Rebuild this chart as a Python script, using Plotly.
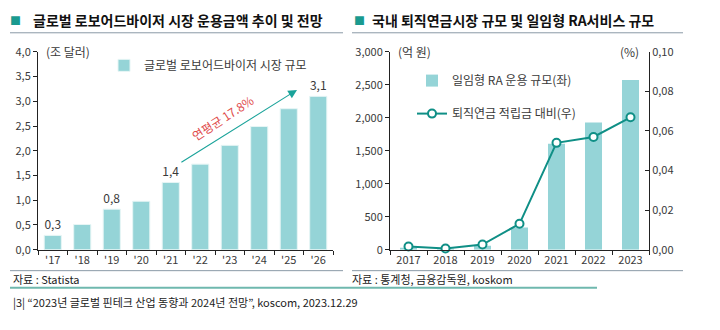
import plotly.graph_objects as go

# ---- data ----
left_years = ["'17", "'18", "'19", "'20", "'21", "'22", "'23", "'24", "'25", "'26"]
left_values = [0.29, 0.51, 0.82, 0.98, 1.36, 1.73, 2.11, 2.49, 2.85, 3.10]
left_labels = ["0,3", "", "0,8", "", "1,4", "", "", "", "", "3,1"]
left_yticks = [0, 0.5, 1.0, 1.5, 2.0, 2.5, 3.0, 3.5, 4.0]
left_yticktext = ["0,0", "0,5", "1,0", "1,5", "2,0", "2,5", "3,0", "3,5", "4,0"]

right_years = ["2017", "2018", "2019", "2020", "2021", "2022", "2023"]
ra_values = [30, 10, 60, 336, 1608, 1930, 2573]
ratio_values = [0.0016, 0.0006, 0.0026, 0.0131, 0.054, 0.057, 0.0669]
right_yticks = [0, 500, 1000, 1500, 2000, 2500, 3000]
right_yticktext = ["0", "500", "1,000", "1,500", "2,000", "2,500", "3,000"]
right_y2ticks = [0, 0.02, 0.04, 0.06, 0.08, 0.10]
right_y2ticktext = ["0,00", "0,02", "0,04", "0,06", "0,08", "0,10"]

W, H = 720, 330
FONT = "Noto Sans CJK KR"
BAR = "#95d4d7"
TEAL = "#0f8f86"
TXT = "#3a3a3a"

def px(x):
    return x / W

def py(y):
    return 1 - y / H

fig = go.Figure()

fig.add_trace(go.Bar(
    x=left_years, y=left_values, text=left_labels, textposition="outside",
    textfont=dict(size=12, color=TXT), cliponaxis=False,
    marker=dict(color=BAR, line=dict(color="#e6f5f5", width=1)),
    name="글로벌 로보어드바이저 시장 규모", xaxis="x", yaxis="y", legend="legend",
))

fig.add_trace(go.Bar(
    x=right_years, y=ra_values, marker=dict(color=BAR, line=dict(width=0)),
    name="일임형 RA 운용 규모(좌)", xaxis="x2", yaxis="y2", legend="legend2",
    legendgroup="a", width=0.46,
))
fig.add_trace(go.Scatter(
    x=right_years, y=ratio_values, mode="lines+markers",
    line=dict(color=TEAL, width=2),
    marker=dict(symbol="circle", size=8, color="white", line=dict(color=TEAL, width=2)),
    name="퇴직연금 적립금 대비(우)", xaxis="x2", yaxis="y3", legend="legend2",
    legendgroup="b", cliponaxis=False,
))

ydom = [py(253), py(45)]
axis_common = dict(showgrid=False, zeroline=False, showline=True, linecolor="#222",
                   linewidth=1, tickfont=dict(size=11, color=TXT), ticklen=4,
                   tickcolor="#222")

fig.update_layout(
    width=W, height=H, margin=dict(l=0, r=0, t=0, b=0),
    paper_bgcolor="white", plot_bgcolor="white",
    font=dict(family=FONT, color=TXT),
    bargap=0.42,
    xaxis=dict(domain=[px(38), px(333)], anchor="y", type="category",
               ticks="outside", tickson="boundaries", **axis_common),
    yaxis=dict(domain=ydom, anchor="x", range=[0, 4.0], tickvals=left_yticks,
               ticktext=left_yticktext, ticks="outside", **axis_common),
    xaxis2=dict(domain=[px(390), px(649)], anchor="y2", type="category",
                ticks="outside", tickson="boundaries", **axis_common),
    yaxis2=dict(domain=ydom, anchor="x2", range=[0, 3000], tickvals=right_yticks,
                ticktext=right_yticktext, ticks="outside", **axis_common),
    yaxis3=dict(domain=ydom, anchor="x2", overlaying="y2", side="right",
                range=[0, 0.10], tickvals=right_y2ticks, ticktext=right_y2ticktext,
                ticks="inside", **axis_common),
    legend=dict(x=px(104), y=py(44), xanchor="left", yanchor="top",
                bgcolor="rgba(0,0,0,0)", font=dict(size=12, color=TXT),
                itemwidth=30),
    legend2=dict(x=px(412), y=py(60), xanchor="left", yanchor="top",
                 bgcolor="rgba(0,0,0,0)", font=dict(size=12, color=TXT),
                 tracegroupgap=14, traceorder="grouped", itemwidth=30),
    showlegend=True,
)

ann = []
# titles
ann.append(dict(x=px(8), y=py(12), xref="paper", yref="paper", text="■", showarrow=False,
                xanchor="left", yanchor="middle", font=dict(size=11, color="#1a9a8f")))
ann.append(dict(x=px(31), y=py(12), xref="paper", yref="paper",
                text="<b>글로벌 로보어드바이저 시장 운용금액 추이 및 전망</b>", showarrow=False,
                xanchor="left", yanchor="middle", font=dict(size=14, color="#111")))
ann.append(dict(x=px(352), y=py(12), xref="paper", yref="paper", text="■", showarrow=False,
                xanchor="left", yanchor="middle", font=dict(size=11, color="#1a9a8f")))
ann.append(dict(x=px(370), y=py(12), xref="paper", yref="paper",
                text="<b>국내 퇴직연금시장 규모 및 일임형 RA서비스 규모</b>", showarrow=False,
                xanchor="left", yanchor="middle", font=dict(size=14, color="#111")))
# units
ann.append(dict(x=px(44), y=py(45), xref="paper", yref="paper", text="(조 달러)",
                showarrow=False, xanchor="left", yanchor="middle", font=dict(size=12, color=TXT)))
ann.append(dict(x=px(396), y=py(45), xref="paper", yref="paper", text="(억 원)",
                showarrow=False, xanchor="left", yanchor="middle", font=dict(size=12, color=TXT)))
ann.append(dict(x=px(641), y=py(45), xref="paper", yref="paper", text="(%)",
                showarrow=False, xanchor="right", yanchor="middle", font=dict(size=12, color=TXT)))
# growth arrow
ann.append(dict(x=8.28, y=3.23, ax=4.31, ay=1.75, xref="x", yref="y", axref="x", ayref="y",
                text="", showarrow=True, arrowhead=2, arrowsize=1.6, arrowwidth=1.1,
                arrowcolor="#1aa39a", standoff=0))
ann.append(dict(x=5.75, y=2.68, xref="x", yref="y", text="연평균 17.8%", showarrow=False,
                textangle=-33, font=dict(size=12, color="#e04a4a")))
# sources
ann.append(dict(x=px(11), y=py(284), xref="paper", yref="paper", text="자료 : Statista",
                showarrow=False, xanchor="left", yanchor="middle", font=dict(size=11, color="#222")))
ann.append(dict(x=px(350), y=py(284), xref="paper", yref="paper",
                text="자료 : 통계청, 금융감독원, koskom",
                showarrow=False, xanchor="left", yanchor="middle", font=dict(size=11, color="#222")))
ann.append(dict(x=px(11), y=py(308), xref="paper", yref="paper",
                text="|3| “2023년 글로벌 핀테크 산업 동향과 2024년 전망”, koscom, 2023.12.29",
                showarrow=False, xanchor="left", yanchor="middle", font=dict(size=11, color="#222")))
fig.update_layout(annotations=ann)

shapes = [
    dict(type="line", xref="paper", yref="paper", x0=px(10), x1=px(343), y0=py(25), y1=py(25),
         line=dict(color="#8a9aa6", width=1)),
    dict(type="line", xref="paper", yref="paper", x0=px(352), x1=px(683), y0=py(25), y1=py(25),
         line=dict(color="#8a9aa6", width=1)),
    dict(type="line", xref="paper", yref="paper", x0=px(10), x1=px(343), y0=py(275), y1=py(275),
         line=dict(color="#8a9aa6", width=1)),
    dict(type="line", xref="paper", yref="paper", x0=px(352), x1=px(683), y0=py(275), y1=py(275),
         line=dict(color="#8a9aa6", width=1)),
    dict(type="line", xref="paper", yref="paper", x0=px(10), x1=px(597), y0=py(293), y1=py(293),
         line=dict(color="#6fb8ae", width=2)),
]
fig.update_layout(shapes=shapes)

fig.write_html("out.html")
